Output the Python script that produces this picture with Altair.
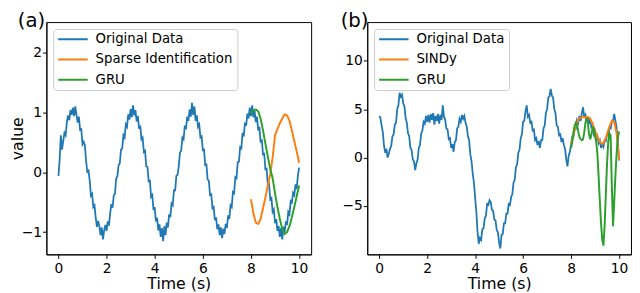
import altair as alt
import numpy as np
import pandas as pd

FONT = "DejaVu Sans"
BLUE, ORANGE, GREEN = "#1f77b4", "#ff7f0e", "#2ca02c"

# ---------------- panel (a) ----------------
a_original = [
    -0.06, 0.20, 0.62, 0.38, 0.52, 0.66, 0.62, 0.84, 0.95, 0.87,
    1.04, 0.96, 1.08, 0.94, 1.10, 0.96, 0.83, 0.93, 0.71, 0.72,
    0.47, 0.51, 0.45, 0.19, 0.01, 0.03, -0.14, -0.39, -0.36, -0.58,
    -0.55, -0.76, -0.91, -0.81, -0.90, -1.05, -0.92, -1.12, -0.97, -0.88,
    -0.98, -0.82, -0.89, -0.68, -0.53, -0.59, -0.38, -0.36, -0.10, -0.07,
    0.12, 0.15, 0.38, 0.40, 0.62, 0.58, 0.80, 0.76, 0.97, 0.88,
    1.06, 0.92, 1.12, 0.95, 1.04, 0.85, 0.94, 0.73, 0.78, 0.55,
    0.58, 0.34, 0.36, 0.10, 0.09, -0.15, -0.14, -0.41, -0.38, -0.63,
    -0.58, -0.82, -0.76, -0.97, -0.87, -1.08, -0.93, -1.15, -0.90, -1.05,
    -0.84, -0.92, -0.70, -0.75, -0.52, -0.55, -0.30, -0.30, -0.06, -0.04,
    0.10, 0.33, 0.36, 0.58, 0.55, 0.78, 0.72, 0.93, 0.86, 1.05,
    0.93, 1.16, 0.96, 1.10, 0.86, 0.95, 0.76, 0.80, 0.58, 0.60,
    0.37, 0.38, 0.12, 0.13, -0.12, -0.14, -0.38, -0.37, -0.60, -0.58,
    -0.80, -0.75, -0.95, -0.87, -1.05, -0.92, -1.10, -0.94, -1.03, -0.86,
    -0.93, -0.72, -0.78, -0.55, -0.58, -0.33, -0.35, -0.08, -0.10, 0.17,
    0.18, 0.42, 0.40, 0.66, 0.60, 0.83, 0.78, 0.98, 0.90, 1.08,
    0.94, 1.12, 0.92, 1.03, 0.84, 0.93, 0.70, 0.76, 0.50, 0.55,
    0.30, 0.31, 0.05, 0.06, -0.20, -0.19, -0.45, -0.43, -0.66, -0.62,
    -0.85, -0.78, -0.98, -0.90, -1.08, -0.93, -1.12, -0.91, -1.00, -0.82,
    -0.88, -0.66, -0.70, -0.48, -0.50, -0.34, -0.38, -0.20, -0.28, -0.05,
    0.08,
]
a_sparse = [-0.45, -0.68, -0.84, -0.86, -0.78, -0.60, -0.42, -0.22, -0.03, 0.25,
            0.62, 0.72, 0.82, 0.90, 0.97, 0.95, 0.86, 0.70, 0.52, 0.35, 0.16]
a_gru = [0.98, 1.04, 1.05, 1.02, 0.90, 0.70, 0.48, 0.26, 0.06, -0.10,
         -0.35, -0.58, -0.78, -0.95, -1.03, -1.00, -0.90, -0.75, -0.58, -0.40, -0.22]

# ---------------- panel (b) ----------------
b_original = [
    4.3, 4.1, 3.3, 2.6, 1.2, 0.5, 0.9, 0.0, 0.4, 0.9,
    1.2, 2.2, 2.4, 3.4, 3.6, 5.0, 5.4, 6.7, 6.3, 6.5,
    5.6, 5.3, 4.1, 3.6, 2.5, 2.2, 1.0, 0.8, -0.2, -0.4,
    -1.3, -0.6, -0.2, 1.0, 1.3, 2.5, 2.8, 3.7, 3.5, 4.3,
    3.7, 4.4, 3.6, 4.5, 3.9, 4.6, 3.4, 4.3, 3.8, 4.5,
    3.5, 4.4, 3.9, 5.4, 4.2, 3.9, 3.0, 2.9, 1.9, 2.0,
    1.0, 1.4, 0.6, 1.6, 1.8, 3.0, 3.2, 4.0, 3.7, 4.4,
    4.0, 4.3, 3.6, 3.2, 2.2, 1.8, 0.3, -0.4, -1.7, -2.6,
    -4.2, -5.6, -7.7, -8.9, -8.3, -8.5, -7.4, -7.3, -6.3, -6.0,
    -4.8, -4.9, -4.4, -4.6, -5.4, -5.5, -6.4, -6.5, -7.5, -7.7,
    -8.8, -9.4, -8.0, -7.9, -6.8, -6.8, -5.8, -5.8, -4.8, -4.9,
    -4.1, -3.8, -2.6, -2.3, -1.0, -0.7, 0.5, 0.8, 2.0, 2.4,
    3.7, 3.8, 4.8, 5.4, 4.2, 4.4, 3.6, 3.7, 2.8, 2.9,
    1.8, 2.0, 1.3, 1.7, 1.0, 1.8, 1.8, 3.0, 3.3, 4.6,
    5.0, 6.2, 6.3, 7.1, 6.4, 6.2, 5.0, 4.6, 3.3, 3.2,
    2.3, 2.4, 1.6, 2.0, 1.3, 0.9, -0.2, -0.9, 0.2, 0.6,
    1.3, 2.2, 2.2, 3.1, 3.0, 3.9, 3.6, 4.3, 3.8, 4.6,
    5.2, 4.1, 4.4, 3.8, 4.2, 3.6, 3.9, 3.1, 3.2, 2.4,
    2.7, 1.9, 2.2, 1.5, 1.8, 1.0, 1.4, 1.1, 1.8, 1.7,
    2.4, 2.3, 3.0, 3.0, 3.7, 3.8, 4.5, 3.8, 3.1, 1.6,
    -0.3,
]
b_sindy = [1.4, 2.3, 3.3, 3.9, 4.15, 4.2, 4.2, 4.2, 4.0, 3.5,
           2.8, 2.1, 1.6, 1.4, 1.7, 2.4, 3.2, 3.8, 3.7, 2.5, -0.2]
b_gru = [1.0, 1.6, 2.6, 3.3, 3.6, 3.4, 2.7, 2.1, 1.9, 1.8,
         1.9, 2.6, 3.6, 4.1, 3.6, 2.4, 1.9, 2.4, 3.1, 3.0,
         2.2, 1.6, 0.3, -2.0, -4.5, -6.8, -8.5, -9.1, -7.0, -3.8,
         -0.6, 1.6, 2.5, 2.3, -3.0, -7.1, -4.5, -1.8, 0.5, 2.0, 2.7]

# sampling grids
t_orig = np.round(np.arange(len(a_original)) * 0.05, 2)
t_pred10 = np.round(8 + np.arange(21) * 0.1, 2)
t_pred05 = np.round(8 + np.arange(41) * 0.05, 2)

X_TICKS = [0, 2, 4, 6, 8, 10]


def frame(t, v, name):
    return pd.DataFrame({"t": t, "v": v, "series": name})


def panel(label, dx, series, ydomain, yticks, ytitle, width):
    names = [s[2] for s in series]
    color = alt.Color(
        "series:N",
        scale=alt.Scale(domain=names, range=[BLUE, ORANGE, GREEN]),
        legend=alt.Legend(
            title=None, orient="top-left", offset=7, padding=4,
            fillColor="white", strokeColor="#cccccc", cornerRadius=3,
            symbolType="stroke", symbolSize=900, symbolStrokeWidth=2,
            clipHeight=13, rowPadding=6.5, labelOffset=7,
            labelFont=FONT, labelFontSize=13.5, labelColor="black",
        ),
    )
    x = alt.X("t:Q", scale=alt.Scale(domain=[-0.5, 10.5], nice=False, zero=False),
              axis=alt.Axis(values=X_TICKS, title="Time (s)", format="d"))
    if ytitle:
        yaxis = alt.Axis(values=yticks, title=ytitle, format="d")
    else:
        yaxis = alt.Axis(values=yticks, title=None, format="d")
    y = alt.Y("v:Q", scale=alt.Scale(domain=ydomain, nice=False, zero=False), axis=yaxis)
    layers = []
    for (t, v, name), sw in zip(series, [1.8, 2, 2]):
        layers.append(
            alt.Chart(frame(t, v, name))
            .mark_line(strokeWidth=sw, clip=True)
            .encode(x=x, y=y, color=color)
        )
    return alt.layer(*layers).properties(
        width=width, height=236,
        title=alt.Title(label, anchor="start", frame="group", dx=dx, offset=-9,
                        fontSize=20, font=FONT, fontWeight="normal", color="black"),
    )


pa = panel("(a)", -29,
           [(t_orig, a_original, "Original Data"),
            (t_pred10, a_sparse, "Sparse Identification"),
            (t_pred10, a_gru, "GRU")],
           [-1.37, 2.51], [-1, 0, 1, 2], "value", 269)
pb = panel("(b)", -27,
           [(t_orig, b_original, "Original Data"),
            (t_pred10, b_sindy, "SINDy"),
            (t_pred05, b_gru, "GRU")],
           [-10.0, 14.0], [-5, 0, 5, 10], None, 268)

chart = (
    alt.hconcat(pa, pb, spacing=28)
    .resolve_scale(color="independent", x="independent", y="independent")
    .resolve_legend(color="independent")
    .properties(padding=0)
    .configure_axis(
        labelFont=FONT, titleFont=FONT, labelFontSize=14, titleFontSize=16,
        titleFontWeight="normal", labelColor="black", titleColor="black",
        tickColor="black", domainColor="black", tickSize=4, labelPadding=1, grid=False,
    )
    .configure_axisX(labelPadding=3, titlePadding=1)
    .configure_axisY(titlePadding=-4)
    .configure_view(stroke="black", strokeWidth=1)
)

chart.save("out.html", embed_options={"renderer": "svg", "actions": False})
